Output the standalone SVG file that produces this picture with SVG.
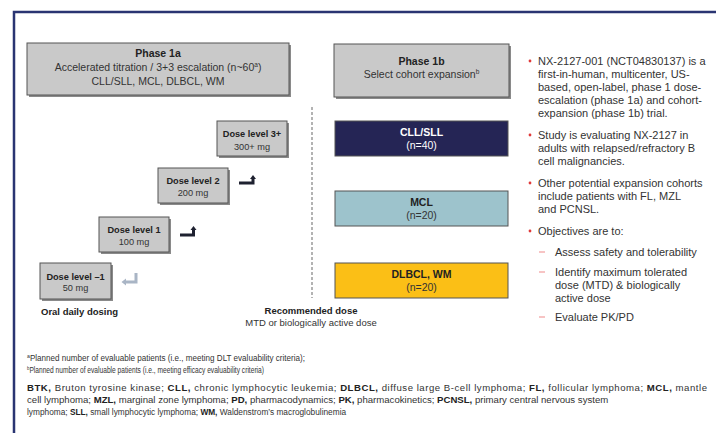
<svg xmlns="http://www.w3.org/2000/svg" width="716" height="433" viewBox="0 0 716 433">
<style>
text{font-family:"Liberation Sans",Arial,sans-serif;fill:#333}
.b{font-weight:bold;fill:#222}
.box{fill:#c9c9c9;stroke:#555;stroke-width:1}
.sh{fill:#8a8a8a}
.c{text-anchor:middle}
.lbl{font-size:9.2px}
.hd{font-size:10.5px}
.co{font-size:10.5px}
.bl{font-size:11px}
.fn{font-size:9.6px}
.fs{font-size:8.5px}
.dot{fill:#e03a3a}
.dash{fill:#ef8a8a}
.ak{fill:#1e2130}
.al{fill:#a9b5c5}
</style>
<rect width="716" height="433" fill="#fff"/>
<g id="frame" fill="none" stroke="#2a3472" stroke-width="2.5">
<path d="M14,433V12H716"/>
</g>
<g id="phase1a">
<rect class="sh" x="29" y="45" width="262" height="52"/>
<rect class="box" x="27" y="43" width="262" height="52"/>
<text class="c hd b" x="158" y="57">Phase 1a</text>
<text class="c hd" x="158" y="71">Accelerated titration / 3+3 escalation (n~60<tspan font-size="6.5" dy="-4">a</tspan><tspan dy="4">)</tspan></text>
<text class="c hd" x="158" y="84.5">CLL/SLL, MCL, DLBCL, WM</text>
</g>
<g id="phase1b">
<rect class="sh" x="336" y="46" width="175" height="53"/>
<rect class="box" x="334" y="44" width="175" height="53"/>
<text class="c hd b" x="421.5" y="65">Phase 1b</text>
<text class="c hd" x="421.5" y="78">Select cohort expansion<tspan font-size="6.5" dy="-4">b</tspan></text>
</g>
<g id="divider">
<line x1="312" y1="107" x2="312" y2="298" stroke="#9a9a9a" stroke-width="1.5" stroke-dasharray="3,2"/>
</g>
<g id="dose3">
<rect class="sh" x="219" y="123" width="70" height="35"/>
<rect class="box" x="217" y="121" width="70" height="35"/>
<text class="c lbl b" x="252" y="136.5">Dose level 3+</text>
<text class="c lbl" x="252" y="149.5">300+ mg</text>
</g>
<g id="dose2">
<rect class="sh" x="160" y="170" width="70" height="35"/>
<rect class="box" x="158" y="168" width="70" height="35"/>
<text class="c lbl b" x="193" y="184">Dose level 2</text>
<text class="c lbl" x="193" y="196">200 mg</text>
</g>
<g id="dose1">
<rect class="sh" x="101" y="219" width="70" height="35"/>
<rect class="box" x="99" y="217" width="70" height="35"/>
<text class="c lbl b" x="134" y="232.5">Dose level 1</text>
<text class="c lbl" x="134" y="244.5">100 mg</text>
</g>
<g id="doseM1">
<rect class="sh" x="42" y="265" width="71" height="36"/>
<rect class="box" x="40" y="263" width="71" height="36"/>
<text class="c lbl b" x="75.5" y="279.5">Dose level –1</text>
<text class="c lbl" x="75.5" y="291">50 mg</text>
</g>
<g id="connectors">
<path class="ak" d="M239,181.5H251.5V179H250L253,175L256,179H254.5V184.5H239Z"/>
<path class="ak" d="M180,233.5H192V230H190.5L193.5,226L196.5,230H195V236.5H180Z"/>
<path class="al" d="M134.5,273H137.5V283.5H126V285.5L121.5,282L126,278.5V280.5H134.5Z"/>
</g>
<g id="cll">
<rect x="335" y="121" width="173" height="35" fill="#252555" stroke="#555" stroke-width="1"/>
<text class="c co b" x="421.5" y="136" style="fill:#fff">CLL/SLL</text>
<text class="c co" x="421.5" y="149" style="fill:#fff">(n=40)</text>
</g>
<g id="mcl">
<rect x="335" y="191" width="173" height="35" fill="#9dc3cc" stroke="#555" stroke-width="1"/>
<text class="c co b" x="421.5" y="206">MCL</text>
<text class="c co" x="421.5" y="219">(n=20)</text>
</g>
<g id="dlbcl">
<rect x="335" y="263" width="173" height="35" fill="#fbbf16" stroke="#555" stroke-width="1"/>
<text class="c co b" x="421.5" y="278">DLBCL, WM</text>
<text class="c co" x="421.5" y="291">(n=20)</text>
</g>
<g id="labels">
<text class="b" x="41" y="315" font-size="9.5">Oral daily dosing</text>
<text class="c b" x="311" y="314" font-size="9.5">Recommended dose</text>
<text class="c" x="311" y="326" font-size="9.5">MTD or biologically active dose</text>
</g>
<g id="bullets">
<circle class="dot" cx="530" cy="61" r="1.4"/>
<circle class="dot" cx="530" cy="135" r="1.4"/>
<circle class="dot" cx="530" cy="183" r="1.4"/>
<circle class="dot" cx="530" cy="231" r="1.4"/>
<rect class="dash" x="539" y="251.5" width="6" height="1"/>
<rect class="dash" x="539" y="271.5" width="6" height="1"/>
<rect class="dash" x="539" y="316.5" width="6" height="1"/>
<text class="bl">
<tspan x="538" y="65">NX-2127-001 (NCT04830137) is a</tspan>
<tspan x="538" y="78">first-in-human, multicenter, US-</tspan>
<tspan x="538" y="91">based, open-label, phase 1 dose-</tspan>
<tspan x="538" y="104">escalation (phase 1a) and cohort-</tspan>
<tspan x="538" y="117">expansion (phase 1b) trial.</tspan>
<tspan x="538" y="139">Study is evaluating NX-2127 in</tspan>
<tspan x="538" y="152">adults with relapsed/refractory B</tspan>
<tspan x="538" y="165">cell malignancies.</tspan>
<tspan x="538" y="187">Other potential expansion cohorts</tspan>
<tspan x="538" y="200">include patients with FL, MZL</tspan>
<tspan x="538" y="213">and PCNSL.</tspan>
<tspan x="538" y="235">Objectives are to:</tspan>
<tspan x="555" y="256">Assess safety and tolerability</tspan>
<tspan x="555" y="276">Identify maximum tolerated</tspan>
<tspan x="555" y="289">dose (MTD) &amp; biologically</tspan>
<tspan x="555" y="302">active dose</tspan>
<tspan x="555" y="321">Evaluate PK/PD</tspan>
</text>
</g>
<g id="footnotes">
<text class="fs" x="27" y="361" textLength="278" lengthAdjust="spacingAndGlyphs"><tspan font-size="5.5" dy="-3">a</tspan><tspan dy="3">Planned number of evaluable patients (i.e., meeting DLT evaluability criteria);</tspan></text>
<text class="fs" x="27" y="373" textLength="237" lengthAdjust="spacingAndGlyphs"><tspan font-size="5.5" dy="-3">b</tspan><tspan dy="3">Planned number of evaluable patients (i.e., meeting efficacy evaluability criteria)</tspan></text>
<text class="fn" x="27" y="391" textLength="680"><tspan class="b">BTK,</tspan> Bruton tyrosine kinase; <tspan class="b">CLL,</tspan> chronic lymphocytic leukemia; <tspan class="b">DLBCL,</tspan> diffuse large B-cell lymphoma; <tspan class="b">FL,</tspan> follicular lymphoma; <tspan class="b">MCL,</tspan> mantle</text>
<text class="fn" x="27" y="403">cell lymphoma; <tspan class="b">MZL,</tspan> marginal zone lymphoma; <tspan class="b">PD,</tspan> pharmacodynamics; <tspan class="b">PK,</tspan> pharmacokinetics; <tspan class="b">PCNSL,</tspan> primary central nervous system</text>
<text x="27" y="415" font-size="8.3">lymphoma; <tspan class="b">SLL,</tspan> small lymphocytic lymphoma; <tspan class="b">WM,</tspan> Waldenstrom’s macroglobulinemia</text>
</g>
</svg>
